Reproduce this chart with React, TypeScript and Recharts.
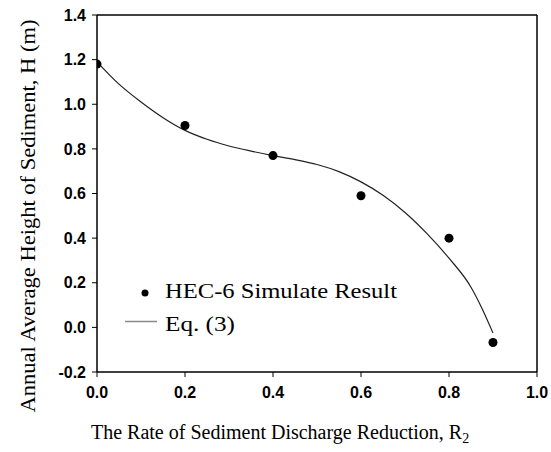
import React from "react";
import {
  ComposedChart,
  Line,
  Scatter,
  XAxis,
  YAxis,
  ReferenceLine,
  Customized,
} from "recharts";

const xTicks = [0, 0.2, 0.4, 0.6, 0.8, 1.0];
const yTicks = [-0.2, 0, 0.2, 0.4, 0.6, 0.8, 1.0, 1.2, 1.4];

const simX = [0, 0.2, 0.4, 0.6, 0.8, 0.9];
const simH = [1.18, 0.905, 0.77, 0.59, 0.4, -0.068];

const eqX = [0, 0.05, 0.1, 0.15, 0.2, 0.25, 0.3, 0.35, 0.4, 0.45, 0.5, 0.55, 0.6, 0.65, 0.7, 0.75, 0.8, 0.85, 0.875, 0.9];
const eqH = [1.19, 1.09, 1.01, 0.94, 0.883, 0.843, 0.813, 0.79, 0.77, 0.752, 0.73, 0.698, 0.652, 0.592, 0.515, 0.42, 0.31, 0.18, 0.085, -0.025];

const simData = simX.map((x, i) => ({ x, y: simH[i] }));
const eqData = eqX.map((x, i) => ({ x, y: eqH[i] }));

const serif = "'Liberation Serif', 'Times New Roman', serif";
const sans = "'Liberation Sans', Arial, sans-serif";

const Dot = (props: any) => <circle cx={props.cx} cy={props.cy} r={4.5} fill="#000" />;

const Overlay = () => (
  <g>
    <text
      x={35}
      y={216}
      transform="rotate(-90, 35, 216)"
      textAnchor="middle"
      fontFamily={serif}
      fontSize={22}
      fill="#000"
      textLength={393}
      lengthAdjust="spacingAndGlyphs"
    >
      Annual Average Height of Sediment, H (m)
    </text>
    <text x={91} y={439} fontFamily={serif} fontSize={20} fill="#000">
      The Rate of Sediment Discharge Reduction, R
      <tspan fontSize={14} dy={4}>2</tspan>
    </text>
    <circle cx={145} cy={293} r={3.5} fill="#000" />
    <text x={165} y={298} fontFamily={serif} fontSize={22} fill="#000" textLength={232} lengthAdjust="spacingAndGlyphs">
      HEC-6 Simulate Result
    </text>
    <line x1={125} x2={157} y1={321.5} y2={321.5} stroke="#888" strokeWidth={1.5} />
    <text x={165} y={331} fontFamily={serif} fontSize={22} fill="#000" textLength={70} lengthAdjust="spacingAndGlyphs">
      Eq. (3)
    </text>
  </g>
);

export default function App() {
  return (
    <div style={{ position: "absolute", left: 0, top: 0, background: "#fff" }}>
      <ComposedChart
        width={551}
        height={452}
        margin={{ top: 15, right: 14, bottom: 0, left: 0 }}
      >
        <XAxis
          type="number"
          dataKey="x"
          domain={[0, 1]}
          ticks={xTicks}
          tickFormatter={(v: number) => v.toFixed(1)}
          height={80}
          tickSize={5}
          tickMargin={10}
          axisLine={{ stroke: "#000", strokeWidth: 1.5 }}
          tickLine={{ stroke: "#000", strokeWidth: 1 }}
          tick={{ fill: "#000", fontFamily: sans, fontWeight: "bold", fontSize: 16 }}
          allowDataOverflow
        />
        <YAxis
          type="number"
          dataKey="y"
          domain={[-0.2, 1.4]}
          ticks={yTicks}
          tickFormatter={(v: number) => v.toFixed(1)}
          width={97}
          tickSize={5}
          tickMargin={6}
          axisLine={{ stroke: "#000", strokeWidth: 1.5 }}
          tickLine={{ stroke: "#000", strokeWidth: 1 }}
          tick={{ fill: "#000", fontFamily: sans, fontWeight: "bold", fontSize: 16 }}
          allowDataOverflow
        />
        <ReferenceLine y={1.4} stroke="#000" strokeWidth={1.5} />
        <ReferenceLine x={1} stroke="#000" strokeWidth={1.5} />
        <Line
          data={eqData}
          dataKey="y"
          type="monotone"
          stroke="#222"
          strokeWidth={1.2}
          dot={false}
          activeDot={false}
          isAnimationActive={false}
        />
        <Scatter data={simData} dataKey="y" shape={Dot} isAnimationActive={false} />
        <Customized component={Overlay} />
      </ComposedChart>
    </div>
  );
}
